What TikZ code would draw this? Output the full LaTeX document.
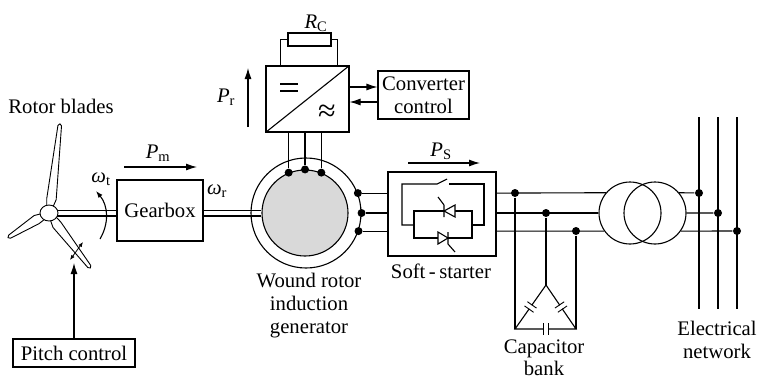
\documentclass[tikz,border=0pt]{standalone}
\usepackage{fontspec}
\setmainfont{Liberation Serif}
\usetikzlibrary{arrows.meta,calc}
\tikzset{>={Latex[length=11pt,width=7pt]}}
\tikzset{
  box/.style={draw, inner sep=0pt, align=center},
  dot/.style={circle, fill, inner sep=0pt, minimum size=8pt},
  ring/.style={circle, draw, inner sep=0pt},
  tip/.style={-{Latex[length=7pt,width=5pt]}},
  twotip/.style={{Latex[length=5pt,width=4pt]}-{Latex[length=5pt,width=4pt]}, line width=0.8pt},
  capgap/.style={fill=white, inner sep=0pt, minimum width=4pt, minimum height=10pt, sloped,
    append after command={(\tikzlastnode.north west) edge[line width=0.9pt] (\tikzlastnode.south west)
      (\tikzlastnode.north east) edge[line width=0.9pt] (\tikzlastnode.south east)}},
}

\begin{document}
\begin{tikzpicture}[x=1pt,y=-1pt,line width=1.1pt,font=\fontsize{20.7}{23}\selectfont]
\useasboundingbox (0,0) rectangle (759,381);

% turbine: three blades round the hub
\coordinate (hub) at (49,213);
\foreach \ang/\len in {83/90,211/48,307/69}{
  \begin{scope}[shift={(hub)},rotate=\ang]
    \draw[fill=white,line width=0.9pt] (6,3) -- (14,5.5) -- (\len-2,1.8)
      arc[start angle=90,end angle=-90,radius=1.8] -- (14,-4) -- (6,-3) -- cycle;
  \end{scope}
}
\draw[fill=white,line width=0.9pt] (hub) ellipse[x radius=9,y radius=8];
\node (bladelbl) at (61,106) {Rotor blades};

\node[box,minimum width=86,minimum height=61] (gear) at (160,210.5) {Gearbox};
\coordinate (sh1) at (57,210.5);
\coordinate (sh2) at (57,216);
\draw (sh1) -- (sh1 -| gear.west) (sh2) -- (sh2 -| gear.west);

\coordinate (wt0) at (100,239);
\coordinate (wt1) at (96,191);
\draw[tip] (wt0) to[bend right=35] (wt1);
\node (wtlbl) at (101,179) {{\itshape ω}\textsubscript{t}};

\coordinate (pa) at (70,260);
\coordinate (pb) at (83,242);
\draw[twotip] (pa) -- (pb);
\node[box,minimum width=122,minimum height=28] (pitch) at (74,353) {Pitch control};
\coordinate (pitchtip) at (74,263);
\draw[->] (pitch) -- (pitchtip);

\coordinate (pm0) at (124,167);
\coordinate (pm1) at (197,167);
\draw[->] (pm0) -- (pm1);
\node (pmlbl) at (158,153) {{\itshape P}\textsubscript{m}};

% generator
\node[ring,minimum size=110] (stator) at (306,213) {};
\node[ring,fill=black!15,minimum size=86] (rotor) at (305,213) {};
\draw (sh1 -| gear.east) -- (sh1 -| rotor.west) (sh2 -| gear.east) -- (sh2 -| rotor.west);
\node (wrlbl) at (217,191) {{\itshape ω}\textsubscript{r}};
\foreach \a/\n in {112/1,90/2,68/3} \node[dot] (rd\n) at (rotor.\a) {};
\foreach \a/\n in {21/1,0/2,-19/3} \node[dot] (sd\n) at (stator.\a) {};
\node[align=center] (genlbl) at (309,306) {Wound rotor\\induction\\generator};

% rotor side converter
\node[box,minimum width=83,minimum height=66] (conv) at (307.5,99) {};
\draw (conv.south west) -- (conv.north east);
\draw (280,84) -- (298,84) (280,91) -- (298,91);
\node[font=\fontsize{32}{32}\selectfont] (acsym) at (327,113) {≈};
\foreach \n in {1,2,3} \draw (rd\n) -- (rd\n |- conv.south);

\node[draw,inner sep=0pt,minimum width=43,minimum height=13] (rc) at (309.5,39.5) {};
\draw (rc.west) -| ($(conv.north west)+(15,0)$);
\draw (rc.east) -| ($(conv.north east)+(-12,0)$);
\node (rclbl) at (316,23) {{\itshape R}\textsubscript{C}};

\coordinate (pr0) at (248,127);
\coordinate (pr1) at (248,68);
\draw[->] (pr0) -- (pr1);
\node (prlbl) at (226,97) {{\itshape P}\textsubscript{r}};

\node[box,minimum width=91,minimum height=48] (cc) at (423.5,95) {Converter\\control};
\draw[->] ([yshift=12]conv.east) -- ([yshift=12]conv.east -| cc.west);
\draw[->] ([yshift=-7]cc.west) -- ([yshift=-7]cc.west -| conv.east);

% soft-starter
\node[box,minimum width=108,minimum height=84] (ss) at (442,214) {};
\node (sslbl) at (441,271) {Soft\,-\,starter};
\foreach \n in {1,2,3} \draw (sd\n) -- (sd\n -| ss.west);
\draw (414,225) -- (402,225) -- (402,184) -- (437,184) -- (447,179);
\draw (449,184) -- (484,184) -- (484,225) -- (472,225);
\draw (414,211) rectangle (472,238);
\draw[fill=white] (455,205) -- (455,217) -- (444,211) -- cycle;
\draw (444,205) -- (444,217) (444,205) -- (438,197);
\draw[fill=white] (438,232) -- (438,244) -- (448,238) -- cycle;
\draw (448,232) -- (448,244) (448,244) -- (455,252);

\coordinate (ps0) at (408,163);
\coordinate (ps1) at (480,163);
\draw[->] (ps0) -- (ps1);
\node (pslbl) at (441,151) {{\itshape P}\textsubscript{S}};

% transformer and buses
\node[ring,minimum size=62] (tl) at (630,213) {};
\node[ring,minimum size=62] (tr) at (655,213) {};
\draw (ss.east |- sd1) -- (tl.140);
\draw (ss.east |- sd2) -- (tl.west);
\draw (ss.east |- sd3) -- (tl.215);

\node[dot] (b1) at (515,193) {};
\node[dot] (b2) at (546,213) {};
\node[dot] (b3) at (576,231) {};
\coordinate (ctop) at (546,285);
\coordinate (cbl) at (515,329);
\coordinate (cbr) at (576,329);
\draw (b1) -- (cbl) (b2) -- (ctop) (b3) -- (cbr);
\draw (ctop) -- (cbl) -- (cbr) -- cycle;
\path (ctop) -- node[capgap]{} (cbl);
\path (cbl) -- node[capgap]{} (cbr);
\path (cbr) -- node[capgap]{} (ctop);
\node[align=center,font=\fontsize{20.7}{22}\selectfont] (caplbl) at (544,358) {Capacitor\\bank};

% network
\foreach \x/\n in {699/1,718/2,737/3}{
  \coordinate (nt\n) at (\x,117);
  \coordinate (nb\n) at (\x,309);
  \draw (nt\n) -- (nb\n);
}
\node[dot] (n1) at (699,193) {};
\node[dot] (n2) at (718,213) {};
\node[dot] (n3) at (737,231) {};
\draw (tr.40) -- (n1) (tr.east) -- (n2) (tr.-35) -- (n3);
\node[align=center] (netlbl) at (717,340) {Electrical\\network};
\end{tikzpicture}
\end{document}
